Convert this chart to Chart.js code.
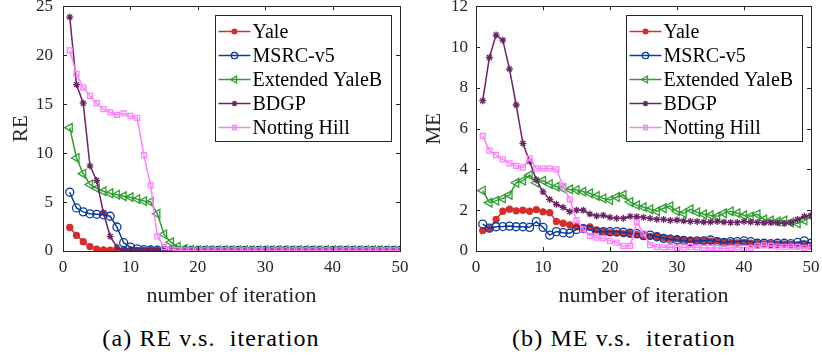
<!DOCTYPE html>
<html>
<head>
<meta charset="utf-8">
<script src="https://cdn.jsdelivr.net/npm/chart.js@4.4.1/dist/chart.umd.min.js"></script>
<style>
  body { margin: 0; background: #fff; }
  #wrap { position: relative; width: 822px; height: 355px; background: #fff; font-family: "Liberation Serif", "DejaVu Serif", serif; }
  .box { position: absolute; top: 0; width: 411px; height: 310px; }
  .cap { position: absolute; top: 326px; width: 320px; text-align: center; font-size: 24px; letter-spacing: 1.1px; line-height: 24px; color: #000; white-space: pre; }
</style>
</head>
<body>
<div id="wrap">
  <div class="box" style="left:0"><canvas id="chartRE"></canvas></div>
  <div class="box" style="left:411px"><canvas id="chartME"></canvas></div>
  <div class="cap" style="left:51px">(a) RE v.s.  iteration</div>
  <div class="cap" style="left:464px">(b) ME v.s.  iteration</div>
</div>
<script>
const iterations = [1,2,3,4,5,6,7,8,9,10,11,12,13,14,15,16,17,18,19,20,21,22,23,24,25,
  26,27,28,29,30,31,32,33,34,35,36,37,38,39,40,41,42,43,44,45,46,47,48,49,50];
const xTicks = [0, 10, 20, 30, 40, 50];
const seriesNames = ['Yale', 'MSRC-v5', 'Extended YaleB', 'BDGP', 'Notting Hill'];

// RE per iteration
const yaleRE = [2.4,1.6,0.95,0.45,0.2,0.12,0.08,0.06,0.05,0.05,
  0.05,0.05,0.05,0.05,0.05,0.05,0.05,0.05,0.05,0.05,0.05,0.05,0.05,0.05,0.05,
  0.05,0.05,0.05,0.05,0.05,0.05,0.05,0.05,0.05,0.05,0.05,0.05,0.05,0.05,0.05,
  0.05,0.05,0.05,0.05,0.05,0.05,0.05,0.05,0.05,0.05];
const msrcRE = [6.0,4.4,4.0,3.8,3.75,3.7,3.55,2.45,0.85,0.4,
  0.22,0.15,0.1,0.08,0.06,0.05,0.05,0.05,0.05,0.05,0.05,0.05,0.05,0.05,0.05,
  0.05,0.05,0.05,0.05,0.05,0.05,0.05,0.05,0.05,0.05,0.05,0.05,0.05,0.05,0.05,
  0.05,0.05,0.05,0.05,0.05,0.05,0.05,0.05,0.05,0.05];
const eybRE = [12.6,9.5,7.9,6.8,6.4,6.1,5.9,5.75,5.6,5.5,
  5.3,5.1,5.0,3.8,1.7,0.9,0.45,0.2,0.1,0.08,0.08,0.08,0.08,0.08,0.08,
  0.08,0.08,0.08,0.08,0.08,0.08,0.08,0.08,0.08,0.08,0.08,0.08,0.08,0.08,0.08,
  0.08,0.08,0.08,0.08,0.08,0.08,0.08,0.08,0.08,0.08];
const bdgpRE = [23.9,17.0,15.1,8.7,7.2,3.9,1.5,0.4,0.1,0.05,
  0.05,0.05,0.05,0.05,0.05,0.05,0.05,0.05,0.05,0.05,0.05,0.05,0.05,0.05,0.05,
  0.05,0.05,0.05,0.05,0.05,0.05,0.05,0.05,0.05,0.05,0.05,0.05,0.05,0.05,0.05,
  0.05,0.05,0.05,0.05,0.05,0.05,0.05,0.05,0.05,0.05];
const nhRE = [20.5,18.1,16.7,15.85,15.1,14.5,14.15,13.9,14.05,13.8,
  13.6,9.8,6.7,1.5,0.4,0.15,0.08,0.06,0.06,0.06,0.06,0.06,0.06,0.06,0.06,
  0.06,0.06,0.06,0.06,0.06,0.06,0.06,0.06,0.06,0.06,0.06,0.06,0.06,0.06,0.06,
  0.06,0.06,0.06,0.06,0.06,0.06,0.06,0.06,0.06,0.06];

// ME per iteration
const yaleME = [1.0,1.1,1.55,1.95,2.05,1.97,2.0,1.95,2.03,1.92,
  1.88,1.45,1.36,1.28,1.2,1.12,1.18,1.03,0.95,0.9,
  0.88,0.85,0.85,0.8,0.75,0.72,0.7,0.65,0.62,0.6,
  0.55,0.55,0.5,0.5,0.48,0.5,0.45,0.42,0.4,0.42,
  0.38,0.36,0.35,0.35,0.33,0.33,0.32,0.3,0.3,0.28];
const msrcME = [1.32,1.12,1.19,1.2,1.22,1.19,1.19,1.16,1.44,1.16,
  0.78,0.95,0.9,0.87,1.06,1.1,1.03,0.95,0.95,0.95,
  0.95,0.92,0.87,0.85,0.75,0.78,0.7,0.62,0.58,0.54,
  0.52,0.46,0.5,0.5,0.54,0.46,0.42,0.46,0.46,0.5,
  0.46,0.38,0.38,0.36,0.38,0.38,0.36,0.42,0.5,0.38];
const eybME = [2.96,2.37,2.47,2.58,2.75,3.35,3.45,3.72,3.35,3.45,
  3.28,3.15,3.07,3.02,2.99,2.91,2.83,2.7,2.58,2.5,
  2.65,2.75,2.4,2.25,2.15,2.05,1.95,2.1,2.2,1.95,
  1.85,2.05,1.9,1.8,1.75,1.7,1.85,1.95,1.85,1.75,
  1.7,1.8,1.55,1.5,1.45,1.5,1.4,1.35,1.5,1.7];
const bdgpME = [7.37,9.49,10.59,10.34,8.92,7.16,5.28,4.4,3.5,2.9,
  2.53,2.29,2.14,1.93,2.0,2.0,1.81,1.72,1.75,1.65,
  1.6,1.6,1.7,1.68,1.65,1.6,1.55,1.55,1.5,1.52,
  1.48,1.45,1.45,1.42,1.42,1.45,1.42,1.4,1.4,1.45,
  1.42,1.4,1.38,1.4,1.38,1.35,1.4,1.55,1.7,1.75];
const nhME = [5.64,4.92,4.7,4.49,4.3,4.18,4.1,4.54,4.05,4.05,
  4.05,4.0,3.19,2.53,1.52,1.06,0.74,0.65,0.63,0.5,
  0.41,0.25,0.25,1.4,0.87,0.29,0.2,0.18,0.2,0.15,
  0.18,0.2,0.18,0.15,0.15,0.15,0.12,0.15,0.18,0.15,
  0.15,0.25,0.28,0.25,0.22,0.2,0.22,0.2,0.15,0.2];

const axisColor = '#262626';
const fontFamily = '"Liberation Serif", "DejaVu Serif", serif';

// marker look of each series (MATLAB-ish)
const looks = [
  {color: '#d62d2d', pointStyle: 'circle', radius: 3, fill: true, rotation: 0},
  {color: '#0a3c9e', pointStyle: 'circle', radius: 4, fill: false, rotation: 0},
  {color: '#2e9e2e', pointStyle: 'triangle', radius: 5, fill: false, rotation: -90},
  {color: '#6b2465', pointStyle: 'star', radius: 3.5, fill: false, rotation: 0},
  {color: '#ff80ff', pointStyle: 'rect', radius: 3.5, fill: false, rotation: 0}
];

function makeDatasets(lists) {
  return lists.map((vals, i) => ({
    label: seriesNames[i],
    data: iterations.map((it, k) => ({x: it, y: vals[k]})),
    borderColor: looks[i].color,
    backgroundColor: looks[i].fill ? looks[i].color : 'rgba(0,0,0,0)',
    pointBorderColor: looks[i].color,
    pointBackgroundColor: looks[i].fill ? looks[i].color : 'rgba(0,0,0,0)',
    pointStyle: looks[i].pointStyle,
    pointRadius: looks[i].radius,
    pointRotation: looks[i].rotation,
    pointBorderWidth: 1.3,
    borderWidth: 1.5,
    tension: 0,
    order: 5 - i   // later series drawn on top, like MATLAB
  }));
}

// box around axes with inward ticks + legend box inside the plot
const boxPlugin = {
  id: 'matlabBox',
  afterDraw(chart) {
    const {ctx, chartArea: a, scales} = chart;
    const xs = scales.x, ys = scales.y;
    ctx.save();
    ctx.strokeStyle = axisColor;
    ctx.lineWidth = 1;
    ctx.strokeRect(Math.round(a.left) + 0.5, Math.round(a.top) + 0.5,
      Math.round(a.right - a.left), Math.round(a.bottom - a.top));
    ctx.beginPath();
    xs.ticks.forEach(t => {
      const px = Math.round(xs.getPixelForValue(t.value)) + 0.5;
      ctx.moveTo(px, a.bottom); ctx.lineTo(px, a.bottom - 4);
      ctx.moveTo(px, a.top); ctx.lineTo(px, a.top + 4);
    });
    ys.ticks.forEach(t => {
      const py = Math.round(ys.getPixelForValue(t.value)) + 0.5;
      ctx.moveTo(a.left, py); ctx.lineTo(a.left + 4, py);
      ctx.moveTo(a.right, py); ctx.lineTo(a.right - 4, py);
    });
    ctx.stroke();

    // legend
    const w = 176, rowH = 24, h = 126;
    const lx = Math.round(a.right - 9 - w) + 0.5, ly = Math.round(a.top + 9) + 0.5;
    ctx.fillStyle = '#fff';
    ctx.fillRect(lx, ly, w, h);
    ctx.strokeStyle = axisColor;
    ctx.strokeRect(lx, ly, w, h);
    ctx.font = '20px ' + fontFamily;
    ctx.textBaseline = 'middle';
    chart.data.datasets.forEach((ds, i) => {
      const cy = ly + 16 + i * rowH;
      ctx.strokeStyle = ds.borderColor;
      ctx.lineWidth = 1.5;
      ctx.beginPath();
      ctx.moveTo(lx + 3, cy); ctx.lineTo(lx + 35, cy);
      ctx.stroke();
      ctx.fillStyle = ds.pointBackgroundColor;
      ctx.lineWidth = 1.3;
      Chart.helpers.drawPoint(ctx, {
        pointStyle: ds.pointStyle, rotation: ds.pointRotation,
        radius: ds.pointRadius * 0.8, borderWidth: 1.3
      }, lx + 19, cy);
      ctx.fillStyle = '#000';
      ctx.fillText(ds.label, lx + 37, cy + 1);
    });
    ctx.restore();
  }
};

function makeChart(id, lists, yMax, yStep, yTitle, yTitlePad, yTickPad, yWidth) {
  return new Chart(document.getElementById(id), {
    type: 'line',
    data: {datasets: makeDatasets(lists)},
    options: {
      responsive: true,
      maintainAspectRatio: false,
      animation: false,
      layout: {padding: {top: 6, right: 11, left: 0, bottom: 0}},
      plugins: {legend: {display: false}, tooltip: {enabled: false}},
      scales: {
        x: {
          type: 'linear', min: 0, max: 50,
          afterBuildTicks: s => { s.ticks = xTicks.map(v => ({value: v})); },
          ticks: {color: axisColor, font: {family: fontFamily, size: 17}, padding: 6, maxRotation: 0},
          grid: {display: false, drawTicks: false},
          border: {display: false},
          title: {display: true, text: 'number of iteration', color: axisColor,
            font: {family: fontFamily, size: 22}, padding: {top: 0, bottom: 1}},
          afterFit: s => { s.height = 59; s.paddingLeft = 0; s.paddingRight = 0; }
        },
        y: {
          min: 0, max: yMax,
          ticks: {stepSize: yStep, color: axisColor, font: {family: fontFamily, size: 17}, padding: yTickPad},
          grid: {display: false, drawTicks: false},
          border: {display: false},
          title: {display: true, text: yTitle, color: axisColor,
            font: {family: fontFamily, size: 21}, padding: {top: yTitlePad, bottom: 0}},
          afterFit: s => { s.width = yWidth; s.paddingTop = 0; s.paddingBottom = 0; }
        }
      }
    },
    plugins: [boxPlugin]
  });
}

makeChart('chartRE', [yaleRE, msrcRE, eybRE, bdgpRE, nhRE], 25, 5, 'RE', 9, 10, 63);
makeChart('chartME', [yaleME, msrcME, eybME, bdgpME, nhME], 12, 2, 'ME', 11, 8, 65);
</script>
</body>
</html>
